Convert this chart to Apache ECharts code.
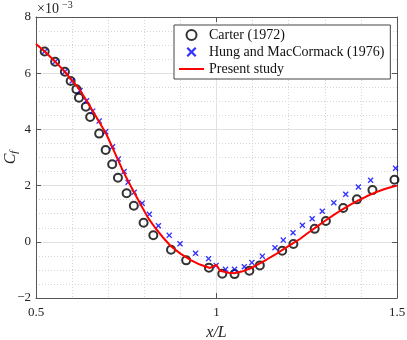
<!DOCTYPE html>
<html>
<head>
<meta charset="utf-8">
<script src="https://cdn.jsdelivr.net/npm/echarts@6/dist/echarts.min.js"></script>
<style>
  html, body { margin: 0; padding: 0; background: #fff; }
  #main { width: 407px; height: 340px; }
</style>
</head>
<body>
<div id="main"></div>
<script>
// Carter (1972)
var carterX = [0.524, 0.553, 0.580, 0.596, 0.612, 0.619, 0.638, 0.650, 0.675, 0.693,
               0.711, 0.727, 0.751, 0.771, 0.798, 0.825, 0.874, 0.916, 0.979, 1.016,
               1.050, 1.091, 1.120, 1.182, 1.213, 1.272, 1.303, 1.351, 1.389, 1.432, 1.493];
var carterY = [6.77, 6.41, 6.05, 5.72, 5.43, 5.13, 4.81, 4.44, 3.85, 3.27,
               2.76, 2.28, 1.73, 1.28, 0.68, 0.23, -0.28, -0.66, -0.92, -1.14,
               -1.15, -1.03, -0.84, -0.32, -0.08, 0.46, 0.74, 1.20, 1.51, 1.84, 2.21];

// Hung and MacCormack (1976)
var hungX = [0.524, 0.553, 0.580, 0.600, 0.622, 0.640, 0.657, 0.675, 0.693, 0.712,
             0.728, 0.744, 0.755, 0.772, 0.794, 0.814, 0.839, 0.869, 0.899, 0.942,
             0.978, 0.999, 1.025, 1.050, 1.077, 1.098, 1.127, 1.162, 1.185, 1.212,
             1.238, 1.265, 1.293, 1.325, 1.358, 1.393, 1.427, 1.496];
var hungY = [6.77, 6.41, 6.05, 5.72, 5.38, 5.02, 4.65, 4.30, 3.92, 3.38,
             2.95, 2.50, 2.12, 1.76, 1.37, 0.98, 0.57, 0.23, -0.07, -0.41,
             -0.60, -0.84, -0.98, -0.98, -0.89, -0.74, -0.51, -0.21, 0.06, 0.32,
             0.59, 0.82, 1.09, 1.39, 1.69, 1.95, 2.19, 2.62];

// Present study
var presentX = [0.500, 0.525, 0.550, 0.576, 0.600, 0.620, 0.636, 0.655, 0.675, 0.696,
                0.720, 0.742, 0.765, 0.788, 0.810, 0.830, 0.850, 0.873, 0.900, 0.930,
                0.954, 0.982, 0.999, 1.010, 1.033, 1.050, 1.070, 1.093, 1.115, 1.139,
                1.162, 1.185, 1.208, 1.231, 1.255, 1.278, 1.301, 1.324, 1.347, 1.370,
                1.393, 1.416, 1.439, 1.462, 1.480, 1.500];
var presentY = [7.04, 6.76, 6.45, 6.11, 5.74, 5.43, 5.11, 4.70, 4.27, 3.80,
                3.12, 2.49, 1.92, 1.37, 0.86, 0.50, 0.18, -0.15, -0.42, -0.66,
                -0.81, -0.93, -0.82, -1.03, -1.10, -1.12, -1.06, -0.95, -0.80, -0.63,
                -0.46, -0.27, -0.08, 0.10, 0.33, 0.54, 0.75, 0.95, 1.14, 1.31,
                1.47, 1.62, 1.75, 1.86, 1.93, 2.00];

function pairs(xs, ys) {
    return xs.map(function (x, i) { return [x, ys[i]]; });
}

var serifFont = 'Liberation Serif';
var axisColor = '#555';
var crossPath = 'path://M0,1.6L1.6,0L5,3.4L8.4,0L10,1.6L6.6,5L10,8.4L8.4,10L5,6.6L1.6,10L0,8.4L3.4,5Z';

var option = {
    animation: false,
    backgroundColor: '#fff',
    grid: { left: 36, right: 10, top: 17, bottom: 42, containLabel: false, outerBoundsMode: 'none' },
    legend: {
        orient: 'vertical',
        left: 174,
        top: 25,
        padding: [3, 6, 3, 4],
        itemWidth: 25,
        itemHeight: 10,
        itemGap: 3,
        borderColor: '#444',
        borderWidth: 1,
        borderRadius: 0,
        backgroundColor: '#fff',
        textStyle: { fontFamily: serifFont, fontSize: 14, color: '#111', lineHeight: 14 },
        data: [
            { name: 'Carter (1972)' },
            { name: 'Hung and MacCormack (1976)' },
            { name: 'Present study', itemStyle: { color: 'rgba(0,0,0,0)', borderWidth: 0, opacity: 0 } }
        ]
    },
    graphic: [
        {
            type: 'text',
            left: 37,
            top: 2,
            style: { text: '×10', fontFamily: serifFont, fontSize: 14, fill: '#222' }
        },
        {
            type: 'text',
            left: 62,
            top: 0,
            style: { text: '−3', fontFamily: serifFont, fontSize: 10, fill: '#222' }
        }
    ],
    xAxis: [
        {
            type: 'value',
            min: 0.5,
            max: 1.5,
            interval: 0.5,
            name: 'x/L',
            nameLocation: 'middle',
            nameGap: 27,
            nameMoveOverlap: false,
            nameTextStyle: { fontFamily: serifFont, fontStyle: 'italic', fontSize: 16, color: '#222' },
            axisLine: { show: true, onZero: false, lineStyle: { color: axisColor } },
            axisTick: { show: true, inside: true, length: 5, lineStyle: { color: axisColor } },
            axisLabel: { fontFamily: serifFont, fontSize: 13, color: '#222', margin: 8 },
            splitLine: { show: true, lineStyle: { color: '#e2e2e2', width: 1 } },
            minorTick: { show: false, splitNumber: 5 },
            minorSplitLine: { show: true, lineStyle: { color: '#d6d6d6', type: [1, 2], width: 1 } }
        },
        {
            type: 'value',
            position: 'top',
            min: 0.5,
            max: 1.5,
            interval: 0.5,
            axisLine: { show: true, onZero: false, lineStyle: { color: axisColor } },
            axisTick: { show: true, inside: true, length: 5, lineStyle: { color: axisColor } },
            axisLabel: { show: false },
            splitLine: { show: false }
        }
    ],
    yAxis: [
        {
            type: 'value',
            min: -2,
            max: 8,
            interval: 2,
            name: '{c|C}{f|f}',
            nameLocation: 'middle',
            nameGap: 16,
            nameRotate: 90,
            nameMoveOverlap: false,
            nameTextStyle: {
                rich: {
                    c: { fontFamily: serifFont, fontStyle: 'italic', fontSize: 16, color: '#222' },
                    f: { fontFamily: serifFont, fontStyle: 'italic', fontSize: 11, color: '#222', padding: [8, 0, 0, 0] }
                }
            },
            axisLine: { show: true, onZero: false, lineStyle: { color: axisColor } },
            axisTick: { show: true, inside: true, length: 5, lineStyle: { color: axisColor } },
            axisLabel: {
                fontFamily: serifFont, fontSize: 13, color: '#222', margin: 5,
                formatter: function (v) { return String(v).replace('-', '−'); }
            },
            splitLine: { show: true, lineStyle: { color: '#e2e2e2', width: 1 } },
            minorTick: { show: false, splitNumber: 4 },
            minorSplitLine: { show: true, lineStyle: { color: '#d6d6d6', type: [1, 2], width: 1 } }
        },
        {
            type: 'value',
            position: 'right',
            min: -2,
            max: 8,
            interval: 2,
            axisLine: { show: true, onZero: false, lineStyle: { color: axisColor } },
            axisTick: { show: true, inside: true, length: 5, lineStyle: { color: axisColor } },
            axisLabel: { show: false },
            splitLine: { show: false }
        }
    ],
    series: [
        {
            name: 'Carter (1972)',
            type: 'scatter',
            symbol: 'circle',
            symbolSize: 8,
            itemStyle: { color: 'rgba(0,0,0,0)', borderColor: '#000', borderWidth: 2 },
            data: pairs(carterX, carterY),
            z: 3
        },
        {
            name: 'Hung and MacCormack (1976)',
            type: 'scatter',
            symbol: crossPath,
            symbolSize: 6,
            itemStyle: { color: '#0000ff' },
            data: pairs(hungX, hungY),
            z: 4
        },
        {
            name: 'Present study',
            type: 'line',
            symbol: 'none',
            showSymbol: false,
            lineStyle: { color: '#ff0000', width: 2 },
            itemStyle: { color: '#ff0000' },
            data: pairs(presentX, presentY),
            z: 5
        }
    ]
};

var chart = echarts.init(document.getElementById('main'));
chart.setOption(option);
</script>
</body>
</html>
